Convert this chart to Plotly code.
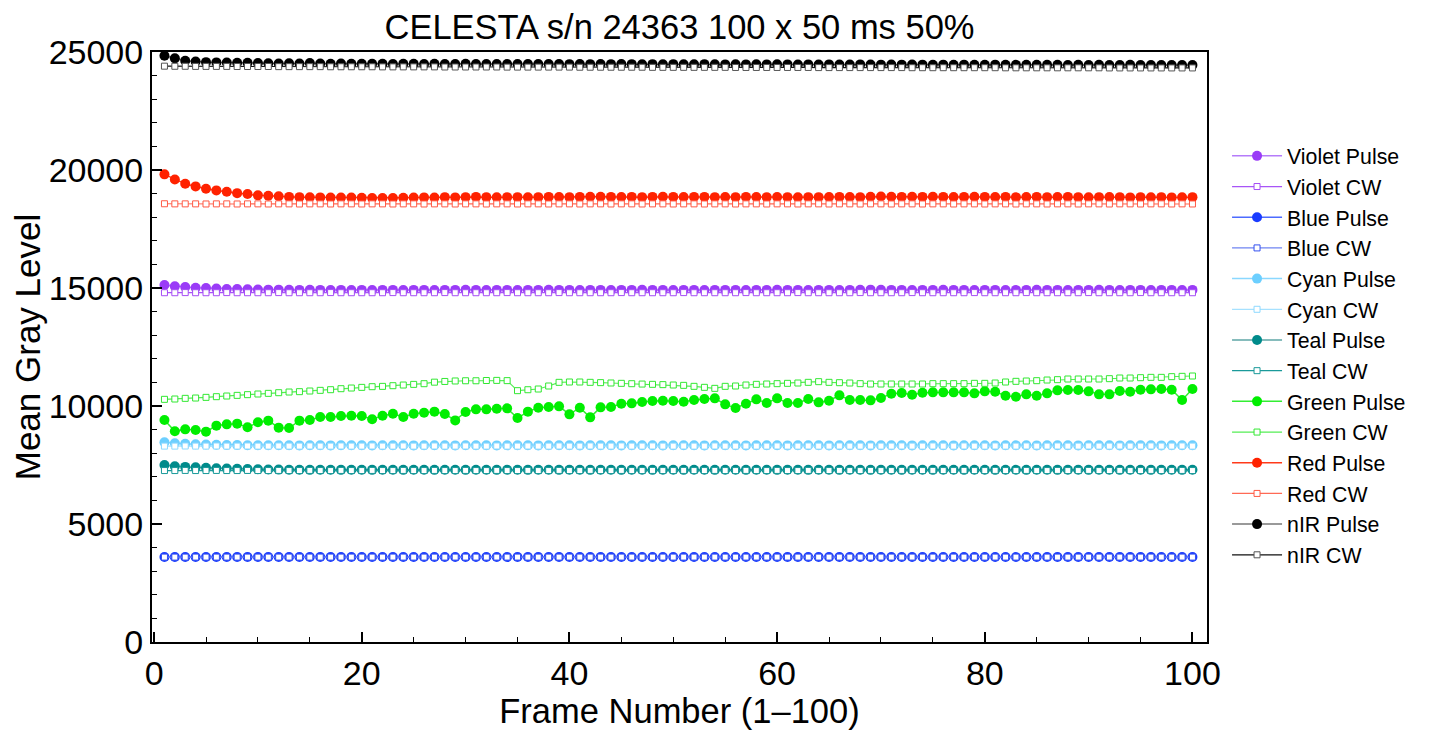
import plotly.graph_objects as go

frames = list(range(1, 101))

violet_pulse = [15125, 15070, 15040, 15010, 15000, 14980, 14960, 14960, 14950, 14940,
                14930, 14930, 14925, 14920, 14925, 14920, 14915, 14920, 14915, 14920,
                14915, 14920, 14920, 14915, 14920, 14920, 14915, 14920, 14920, 14925,
                14920, 14915, 14920, 14920, 14915, 14920, 14920, 14925, 14920, 14920,
                14915, 14920, 14920, 14915, 14920, 14920, 14925, 14920, 14920, 14915,
                14920, 14920, 14915, 14920, 14920, 14920, 14915, 14920, 14920, 14925,
                14920, 14920, 14915, 14920, 14920, 14915, 14920, 14925, 14930, 14925,
                14920, 14920, 14915, 14920, 14920, 14925, 14920, 14920, 14915, 14920,
                14920, 14915, 14920, 14920, 14925, 14920, 14920, 14915, 14920, 14920,
                14925, 14920, 14915, 14920, 14920, 14915, 14920, 14920, 14915, 14920]
violet_cw = [14800, 14800, 14805, 14800, 14800, 14800, 14805, 14800, 14800, 14800,
             14800, 14805, 14800, 14800, 14800, 14800, 14805, 14800, 14800, 14800,
             14800, 14800, 14805, 14800, 14800, 14800, 14800, 14805, 14800, 14800,
             14800, 14800, 14800, 14805, 14800, 14800, 14800, 14800, 14805, 14800,
             14800, 14800, 14800, 14800, 14805, 14800, 14800, 14800, 14800, 14800,
             14805, 14800, 14800, 14800, 14800, 14800, 14805, 14800, 14800, 14800,
             14800, 14805, 14800, 14800, 14800, 14800, 14800, 14805, 14800, 14800,
             14800, 14800, 14805, 14800, 14800, 14800, 14800, 14800, 14805, 14800,
             14800, 14800, 14800, 14805, 14800, 14800, 14800, 14800, 14800, 14805,
             14800, 14800, 14800, 14800, 14805, 14800, 14800, 14800, 14800, 14800]
blue_pulse = [3605, 3600, 3600, 3600, 3600, 3600, 3600, 3600, 3600, 3600,
              3600, 3600, 3600, 3600, 3600, 3600, 3600, 3600, 3600, 3600,
              3600, 3600, 3600, 3600, 3600, 3600, 3600, 3600, 3600, 3600,
              3600, 3600, 3600, 3600, 3600, 3600, 3600, 3600, 3600, 3600,
              3600, 3600, 3600, 3600, 3600, 3600, 3600, 3600, 3600, 3600,
              3600, 3600, 3600, 3600, 3600, 3600, 3600, 3600, 3600, 3600,
              3600, 3600, 3600, 3600, 3600, 3600, 3600, 3600, 3600, 3600,
              3600, 3600, 3600, 3600, 3600, 3600, 3600, 3600, 3600, 3600,
              3600, 3600, 3600, 3600, 3600, 3600, 3600, 3600, 3600, 3600,
              3600, 3600, 3600, 3600, 3600, 3600, 3600, 3600, 3600, 3600]
blue_cw = [3598, 3598, 3598, 3598, 3598, 3598, 3598, 3598, 3598, 3598,
           3598, 3598, 3598, 3598, 3598, 3598, 3598, 3598, 3598, 3598,
           3598, 3598, 3598, 3598, 3598, 3598, 3598, 3598, 3598, 3598,
           3598, 3598, 3598, 3598, 3598, 3598, 3598, 3598, 3598, 3598,
           3598, 3598, 3598, 3598, 3598, 3598, 3598, 3598, 3598, 3598,
           3598, 3598, 3598, 3598, 3598, 3598, 3598, 3598, 3598, 3598,
           3598, 3598, 3598, 3598, 3598, 3598, 3598, 3598, 3598, 3598,
           3598, 3598, 3598, 3598, 3598, 3598, 3598, 3598, 3598, 3598,
           3598, 3598, 3598, 3598, 3598, 3598, 3598, 3598, 3598, 3598,
           3598, 3598, 3598, 3598, 3598, 3598, 3598, 3598, 3598, 3598]
cyan_pulse = [8460, 8420, 8400, 8380, 8370, 8360, 8350, 8345, 8340, 8340,
              8335, 8335, 8335, 8330, 8335, 8335, 8330, 8335, 8335, 8335,
              8330, 8335, 8335, 8335, 8330, 8335, 8335, 8335, 8330, 8335,
              8335, 8335, 8330, 8335, 8335, 8335, 8330, 8335, 8335, 8335,
              8330, 8335, 8335, 8335, 8330, 8335, 8335, 8335, 8330, 8335,
              8335, 8335, 8330, 8335, 8335, 8335, 8330, 8335, 8335, 8335,
              8330, 8335, 8335, 8335, 8330, 8335, 8335, 8335, 8330, 8335,
              8335, 8335, 8330, 8335, 8335, 8335, 8330, 8335, 8335, 8335,
              8330, 8335, 8335, 8335, 8330, 8335, 8335, 8335, 8330, 8335,
              8335, 8335, 8330, 8335, 8335, 8335, 8330, 8335, 8335, 8335]
cyan_cw = [8300, 8300, 8305, 8300, 8300, 8305, 8300, 8300, 8305, 8300,
           8300, 8305, 8300, 8300, 8305, 8300, 8300, 8305, 8300, 8300,
           8305, 8300, 8300, 8305, 8300, 8300, 8305, 8300, 8300, 8305,
           8300, 8300, 8305, 8300, 8300, 8305, 8300, 8300, 8305, 8300,
           8300, 8305, 8300, 8300, 8305, 8300, 8300, 8305, 8300, 8300,
           8305, 8300, 8300, 8305, 8300, 8300, 8305, 8300, 8300, 8305,
           8300, 8300, 8305, 8300, 8300, 8305, 8300, 8300, 8305, 8300,
           8300, 8305, 8300, 8300, 8305, 8300, 8300, 8305, 8300, 8300,
           8305, 8300, 8300, 8305, 8300, 8300, 8305, 8300, 8300, 8305,
           8300, 8300, 8305, 8300, 8300, 8305, 8300, 8300, 8305, 8300]
teal_pulse = [7500, 7450, 7420, 7400, 7380, 7360, 7350, 7340, 7330, 7320,
              7310, 7305, 7300, 7300, 7295, 7300, 7300, 7295, 7300, 7300,
              7295, 7300, 7300, 7295, 7300, 7300, 7295, 7300, 7300, 7295,
              7300, 7300, 7295, 7300, 7300, 7295, 7300, 7300, 7295, 7300,
              7300, 7295, 7300, 7300, 7295, 7300, 7300, 7295, 7300, 7300,
              7295, 7300, 7300, 7295, 7300, 7300, 7295, 7300, 7300, 7295,
              7300, 7300, 7295, 7300, 7300, 7295, 7300, 7300, 7295, 7300,
              7300, 7295, 7300, 7300, 7295, 7300, 7300, 7295, 7300, 7300,
              7295, 7300, 7300, 7295, 7300, 7300, 7295, 7300, 7300, 7295,
              7300, 7300, 7295, 7300, 7300, 7295, 7300, 7300, 7295, 7300]
teal_cw = [7265, 7265, 7270, 7265, 7265, 7270, 7265, 7265, 7270, 7265,
           7265, 7270, 7265, 7265, 7270, 7265, 7265, 7270, 7265, 7265,
           7270, 7265, 7265, 7270, 7265, 7265, 7270, 7265, 7265, 7270,
           7265, 7265, 7270, 7265, 7265, 7270, 7265, 7265, 7270, 7265,
           7265, 7270, 7265, 7265, 7270, 7265, 7265, 7270, 7265, 7265,
           7270, 7265, 7265, 7270, 7265, 7265, 7270, 7265, 7265, 7270,
           7265, 7265, 7270, 7265, 7265, 7270, 7265, 7265, 7270, 7265,
           7265, 7270, 7265, 7265, 7270, 7265, 7265, 7270, 7265, 7265,
           7270, 7265, 7265, 7270, 7265, 7265, 7270, 7265, 7265, 7270,
           7265, 7265, 7270, 7265, 7265, 7270, 7265, 7265, 7270, 7265]
green_pulse = [9406, 8927, 9011, 8983, 8913, 9167, 9223, 9252, 9096, 9308,
               9379, 9082, 9068, 9379, 9406, 9534, 9534, 9576, 9590, 9576,
               9435, 9590, 9675, 9534, 9675, 9717, 9760, 9660, 9390, 9745,
               9858, 9858, 9886, 9900, 9490, 9760, 9928, 9957, 9985, 9646,
               9928, 9519, 9943, 9957, 10098, 10112, 10168, 10211, 10225, 10211,
               10183, 10254, 10296, 10324, 10070, 9914, 10098, 10282, 10126, 10324,
               10126, 10126, 10296, 10155, 10225, 10451, 10254, 10254, 10240, 10338,
               10522, 10550, 10480, 10564, 10578, 10578, 10578, 10578, 10536, 10620,
               10606, 10437, 10395, 10494, 10437, 10536, 10663, 10677, 10677, 10620,
               10494, 10494, 10635, 10606, 10691, 10705, 10719, 10691, 10254, 10719]
green_cw = [10282, 10296, 10324, 10338, 10366, 10395, 10423, 10451, 10480, 10508,
            10536, 10564, 10592, 10607, 10635, 10663, 10691, 10733, 10762, 10790,
            10818, 10832, 10860, 10889, 10917, 10945, 11010, 11040, 11060, 11070,
            11070, 11080, 11085, 11075, 10650, 10690, 10720, 10847, 11003, 11017,
            11017, 11003, 10990, 10975, 10960, 10945, 10930, 10918, 10905, 10890,
            10875, 10833, 10791, 10748, 10833, 10847, 10890, 10918, 10932, 10946,
            10960, 10974, 11003, 11031, 11003, 10988, 10974, 10946, 10932, 10932,
            10932, 10932, 10932, 10932, 10946, 10946, 10946, 10946, 10960, 10960,
            10974, 11017, 11045, 11059, 11073, 11101, 11116, 11144, 11144, 11144,
            11144, 11158, 11186, 11186, 11200, 11214, 11214, 11243, 11257, 11271]
red_pulse = [19815, 19600, 19415, 19305, 19205, 19135, 19080, 19020, 18980, 18925,
             18910, 18885, 18860, 18850, 18845, 18840, 18830, 18835, 18830, 18820,
             18815, 18810, 18810, 18820, 18830, 18840, 18830, 18850, 18840, 18850,
             18860, 18850, 18845, 18850, 18850, 18845, 18850, 18860, 18855, 18850,
             18860, 18865, 18870, 18860, 18855, 18860, 18850, 18860, 18870, 18860,
             18855, 18860, 18860, 18850, 18855, 18850, 18860, 18855, 18850, 18855,
             18850, 18845, 18850, 18850, 18855, 18860, 18855, 18850, 18870, 18880,
             18870, 18860, 18865, 18860, 18870, 18860, 18855, 18860, 18870, 18860,
             18855, 18860, 18850, 18855, 18860, 18850, 18855, 18860, 18850, 18845,
             18850, 18855, 18850, 18840, 18850, 18845, 18850, 18840, 18845, 18850]
red_cw = [18570, 18565, 18565, 18565, 18560, 18565, 18565, 18560, 18565, 18565,
          18560, 18565, 18565, 18560, 18565, 18565, 18560, 18565, 18565, 18560,
          18565, 18565, 18560, 18565, 18565, 18560, 18565, 18565, 18560, 18565,
          18565, 18560, 18565, 18565, 18560, 18565, 18565, 18560, 18565, 18565,
          18560, 18565, 18565, 18560, 18565, 18565, 18560, 18565, 18565, 18560,
          18565, 18565, 18560, 18565, 18565, 18560, 18565, 18565, 18560, 18565,
          18565, 18560, 18565, 18565, 18560, 18565, 18565, 18560, 18565, 18565,
          18560, 18565, 18565, 18560, 18565, 18565, 18560, 18565, 18565, 18560,
          18565, 18565, 18560, 18565, 18565, 18560, 18565, 18565, 18560, 18565,
          18565, 18560, 18565, 18565, 18560, 18565, 18565, 18560, 18565, 18560]
nir_pulse = [24840, 24730, 24630, 24600, 24570, 24560, 24550, 24540, 24540, 24530,
             24520, 24510, 24520, 24510, 24530, 24510, 24500, 24510, 24500, 24500,
             24505, 24500, 24495, 24500, 24500, 24495, 24500, 24490, 24495, 24500,
             24495, 24490, 24495, 24490, 24495, 24490, 24490, 24495, 24490, 24485,
             24490, 24485, 24490, 24485, 24490, 24485, 24480, 24485, 24480, 24485,
             24480, 24480, 24485, 24480, 24475, 24480, 24475, 24480, 24475, 24480,
             24475, 24470, 24475, 24470, 24475, 24470, 24470, 24475, 24470, 24465,
             24470, 24465, 24470, 24465, 24460, 24465, 24460, 24465, 24460, 24460,
             24465, 24460, 24455, 24460, 24455, 24460, 24455, 24450, 24455, 24450,
             24455, 24450, 24450, 24455, 24450, 24445, 24450, 24445, 24450, 24445]
nir_cw = [24400, 24395, 24395, 24390, 24390, 24390, 24390, 24385, 24385, 24385,
          24385, 24380, 24380, 24380, 24380, 24380, 24375, 24375, 24375, 24375,
          24375, 24370, 24370, 24370, 24370, 24370, 24370, 24365, 24365, 24365,
          24365, 24365, 24365, 24360, 24360, 24360, 24360, 24360, 24360, 24360,
          24355, 24355, 24355, 24355, 24355, 24355, 24355, 24350, 24350, 24350,
          24350, 24350, 24350, 24350, 24350, 24345, 24345, 24345, 24345, 24345,
          24345, 24345, 24345, 24340, 24340, 24340, 24340, 24340, 24340, 24340,
          24340, 24340, 24335, 24335, 24335, 24335, 24335, 24335, 24335, 24335,
          24335, 24330, 24330, 24330, 24330, 24330, 24330, 24330, 24330, 24330,
          24330, 24325, 24325, 24325, 24325, 24325, 24325, 24325, 24325, 24325]

series_names = ["Violet Pulse", "Violet CW", "Blue Pulse", "Blue CW", "Cyan Pulse", "Cyan CW",
                "Teal Pulse", "Teal CW", "Green Pulse", "Green CW", "Red Pulse", "Red CW",
                "nIR Pulse", "nIR CW"]
series_values = [violet_pulse, violet_cw, blue_pulse, blue_cw, cyan_pulse, cyan_cw,
                 teal_pulse, teal_cw, green_pulse, green_cw, red_pulse, red_cw,
                 nir_pulse, nir_cw]
marker_colors = ["#9A3BF7", "#A64DF5", "#1A3CFF", "#3350F0", "#6CCFFF", "#8ED9FF",
                 "#008B8B", "#199999", "#00EE00", "#33E833", "#FF2200", "#FF5A45",
                 "#000000", "#555555"]
line_colors = ["#B57CFA", "#A855F7", "#4D6BFF", "#6F84F2", "#8AD8FF", "#A6E1FF",
               "#5EA6A6", "#1A9A9A", "#33EE33", "#55EE55", "#FF3A1A", "#FF6A55",
               "#777777", "#111111"]

FONT = "Liberation Sans, Arial, Helvetica, sans-serif"

# page body has an 8px margin; the figure is sized to fit the 1434x730 window
W, H = 1426, 722

fig = go.Figure()
for i, (name, vals) in enumerate(zip(series_names, series_values)):
    pulse = name.endswith("Pulse")
    if pulse:
        marker = dict(symbol="circle", size=10, color=marker_colors[i],
                      line=dict(width=0))
        line = dict(color=line_colors[i], width=1.5)
    else:
        marker = dict(symbol="square", size=6, color="white",
                      line=dict(width=1, color=marker_colors[i]))
        line = dict(color=line_colors[i], width=1.2)
    fig.add_trace(go.Scatter(x=frames, y=vals, name=name, mode="lines+markers",
                             marker=marker, line=line))

axis_common = dict(showline=True, linecolor="black", linewidth=2, mirror=True,
                   ticks="inside", tickcolor="black", tickwidth=1.5, ticklen=10,
                   showgrid=False, zeroline=False, automargin=False,
                   tickfont=dict(family=FONT, size=34, color="black"))

fig.update_layout(
    width=W, height=H,
    paper_bgcolor="white", plot_bgcolor="white",
    margin=dict(l=144, r=227, t=44, b=88),
    font=dict(family=FONT, color="black"),
    title=dict(text="CELESTA s/n 24363 100 x 50 ms 50%", x=(144 + 1055 / 2) / W,
               xanchor="center", y=1 - 19 / H, yanchor="middle", yref="container",
               font=dict(family=FONT, size=34.5, color="black")),
    xaxis=dict(range=[-0.2, 101.4], tickmode="linear", tick0=0, dtick=20, tickformat="d",
               minor=dict(ticks="inside", ticklen=5, tickcolor="black", tickwidth=1, dtick=5),
               title=dict(text="Frame Number (1–100)", standoff=2,
                          font=dict(family=FONT, size=34.5, color="black")),
               **axis_common),
    yaxis=dict(range=[0, 25000], tickmode="linear", tick0=0, dtick=5000, tickformat="d",
               minor=dict(ticks="inside", ticklen=5, tickcolor="black", tickwidth=1, dtick=1000),
               title=dict(text="Mean Gray Level", standoff=4,
                          font=dict(family=FONT, size=35, color="black")),
               **axis_common),
    legend=dict(x=1.019, xanchor="left", y=0.4856, yanchor="middle", itemwidth=50,
                font=dict(family=FONT, size=21.3, color="black"),
                bgcolor="rgba(0,0,0,0)", borderwidth=0, tracegroupgap=0),
    showlegend=True,
)

fig.write_html("out.html")
